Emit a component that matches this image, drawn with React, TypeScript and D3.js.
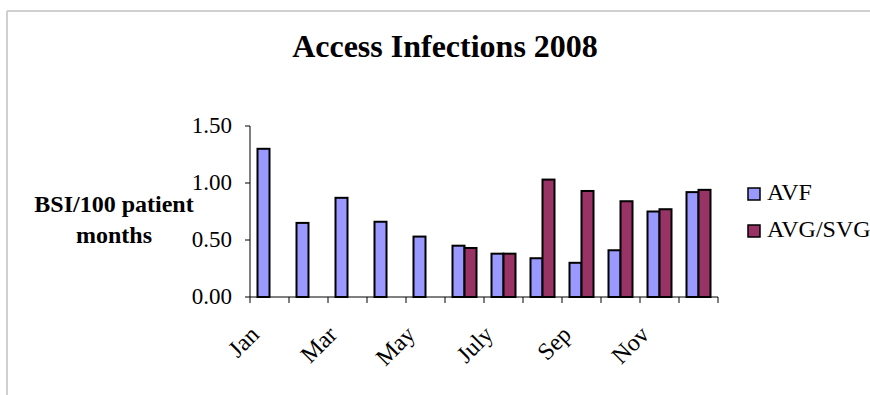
import React from "react";
import * as d3 from "d3";

const months = ["Jan", "Feb", "Mar", "Apr", "May", "Jun", "July", "Aug", "Sep", "Oct", "Nov", "Dec"];
const monthLabels = ["Jan", "", "Mar", "", "May", "", "July", "", "Sep", "", "Nov", ""];
const seriesNames = ["AVF", "AVG/SVG"];
const avf: (number | null)[] = [1.3, 0.65, 0.87, 0.66, 0.53, 0.45, 0.38, 0.34, 0.3, 0.41, 0.75, 0.92];
const avgSvg: (number | null)[] = [null, null, null, null, null, 0.43, 0.38, 1.03, 0.93, 0.84, 0.77, 0.94];
const seriesColors = ["#9999FF", "#993366"];
const yTicks = [0, 0.5, 1.0, 1.5];

const W = 870;
const H = 395;
const FONT = "'Liberation Serif', 'Times New Roman', serif";

export default function App() {
  const plot = { left: 250, right: 718, top: 126, bottom: 297 };
  const x0 = d3.scaleBand<string>().domain(months).range([plot.left, plot.right]).padding(0);
  const x1 = d3
    .scaleBand<string>()
    .domain(seriesNames)
    .range([0, x0.bandwidth()])
    .paddingInner(0)
    .paddingOuter(0.625);
  const y = d3.scaleLinear().domain([0, 1.5]).range([plot.bottom, plot.top]);
  const fmt = d3.format(".2f");
  const values = [avf, avgSvg];

  const tickXs = months.map((m) => x0(m) as number).concat([plot.right]);

  return (
    <svg
      width={W}
      height={H}
      style={{ position: "absolute", left: 0, top: 0, background: "#fff" }}
      fontFamily={FONT}
    >
      {/* chart area border */}
      <line x1={7} y1={11} x2={W} y2={11} stroke="#d0d0d0" strokeWidth={2} />
      <line x1={7} y1={11} x2={7} y2={H} stroke="#d0d0d0" strokeWidth={2} />

      <text x={445} y={57} textAnchor="middle" fontSize={32} fontWeight="bold" fill="#000">
        Access Infections 2008
      </text>

      {/* y axis title */}
      <text textAnchor="middle" fontSize={24} fontWeight="bold" fill="#000">
        <tspan x={114} y={212}>BSI/100 patient</tspan>
        <tspan x={114} y={243}>months</tspan>
      </text>

      {/* bars */}
      {seriesNames.map((s, si) =>
        months.map((m, mi) => {
          const v = values[si][mi];
          if (v == null) return null;
          const bx = (x0(m) as number) + (x1(s) as number);
          return (
            <rect
              key={s + m}
              x={bx}
              y={y(v)}
              width={x1.bandwidth()}
              height={y(0) - y(v)}
              fill={seriesColors[si]}
              stroke="#000"
              strokeWidth={2}
            />
          );
        })
      )}

      {/* y axis */}
      <line x1={plot.left} y1={plot.top} x2={plot.left} y2={plot.bottom} stroke="#000" strokeWidth={1} />
      {yTicks.map((t) => (
        <g key={t}>
          <line x1={plot.left - 5} y1={y(t)} x2={plot.left} y2={y(t)} stroke="#000" />
          <text x={plot.left - 18} y={y(t) + 7} textAnchor="end" fontSize={23} fill="#000">
            {fmt(t)}
          </text>
        </g>
      ))}

      {/* x axis */}
      <line x1={plot.left} y1={plot.bottom} x2={plot.right} y2={plot.bottom} stroke="#000" strokeWidth={1} />
      {tickXs.map((tx, i) => (
        <line key={i} x1={tx} y1={plot.bottom} x2={tx} y2={plot.bottom + 6} stroke="#000" />
      ))}
      {months.map((m, i) => {
        const label = monthLabels[i];
        if (!label) return null;
        const cx = (x0(m) as number) + x0.bandwidth() / 2 - 9;
        const cy = plot.bottom + 39;
        return (
          <text
            key={m}
            transform={`translate(${cx},${cy}) rotate(-45)`}
            textAnchor="end"
            fontSize={24}
            fill="#000"
          >
            {label}
          </text>
        );
      })}

      {/* legend */}
      {seriesNames.map((s, i) => (
        <g key={s} transform={`translate(748,${188 + i * 37})`}>
          <rect x={0} y={0} width={12} height={12} fill={seriesColors[i]} stroke="#000" strokeWidth={1.5} />
          <text x={19} y={12} fontSize={24} fill="#000">
            {s}
          </text>
        </g>
      ))}
    </svg>
  );
}
